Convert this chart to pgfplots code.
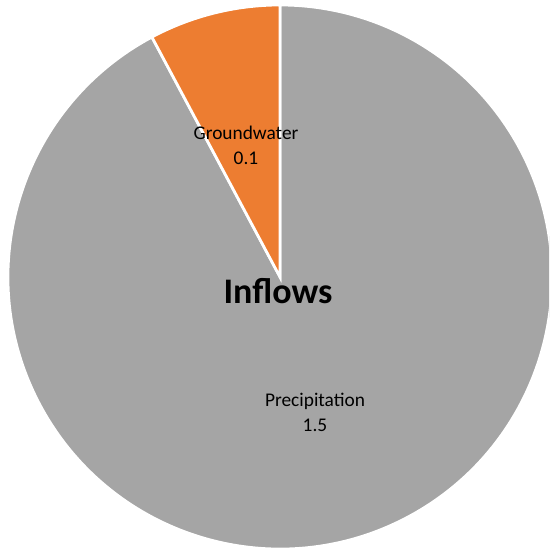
\documentclass[border=0pt]{standalone}
\usepackage{pgfplots}
\pgfplotsset{compat=1.18}
\usepackage{pgfplotstable}
\usepackage{fontspec}
\setmainfont{Carlito}
\definecolor{orng}{HTML}{ED7D31}
\definecolor{gry}{HTML}{A5A5A5}
\pgfplotstableread{
name value
Groundwater 0.127
Precipitation 1.5
}\inflows
\begin{document}
\begin{tikzpicture}
\pgfplotstablegetelem{0}{value}\of\inflows \let\gw\pgfplotsretval
\pgfplotstablegetelem{1}{value}\of\inflows \let\pr\pgfplotsretval
\pgfmathsetmacro{\ga}{90+360*\gw/(\gw+\pr)}
\begin{axis}[hide axis, scale only axis, width=5.49in, height=5.50in,
  xmin=0, xmax=549, ymin=0, ymax=550, clip=true]
\fill[gry, draw=white, line width=2pt] (axis cs:280,273) -- +(\ga:2.72in)
  arc[start angle=\ga, end angle=450, radius=2.72in] -- cycle;
\fill[orng, draw=white, line width=2pt] (axis cs:280,273) -- +(90:2.72in)
  arc[start angle=90, end angle=\ga, radius=2.72in] -- cycle;
\node[font=\fontsize{14}{18}\selectfont, align=center] at (axis cs:246,405) {Groundwater\\0.1};
\node[font=\fontsize{14}{18}\selectfont, align=center] at (axis cs:315,138) {Precipitation\\1.5};
\node[font=\fontsize{26}{30}\selectfont\bfseries] at (axis cs:278,259) {Inflows};
\end{axis}
\pgfresetboundingbox
\path[use as bounding box] (current axis.south west) rectangle (current axis.north east);
\end{tikzpicture}
\end{document}
